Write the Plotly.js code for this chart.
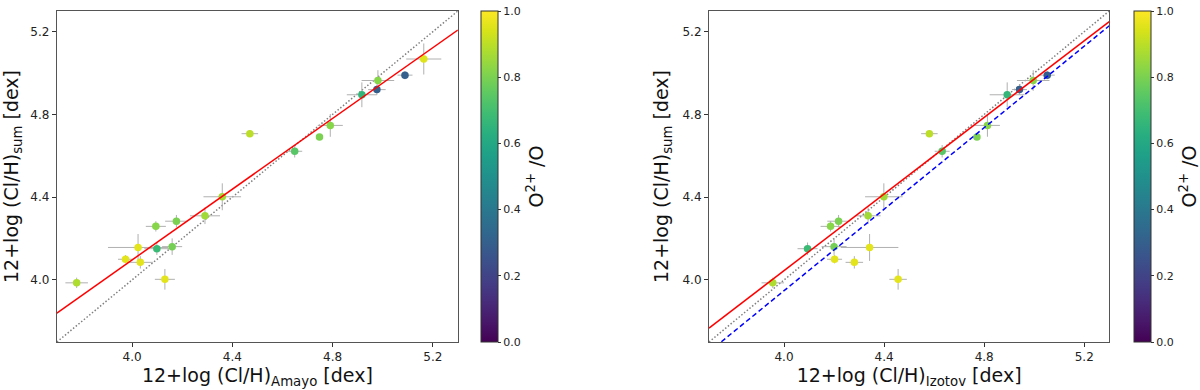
<!DOCTYPE html>
<html>
<head>
<meta charset="utf-8">
<script src="https://cdn.plot.ly/plotly-3.0.1.min.js"></script>
<style>
  body { margin: 0; background: #fff; }
  #chart { width: 1200px; height: 390px; }
</style>
</head>
<body>
<div id="chart"></div>
<script>
// 12+log(Cl/H) from the sum of ions (y axis of both panels)
var clSum = [3.986, 4.100, 4.157, 4.085, 4.259, 4.151, 4.003, 4.161, 4.284, 4.310,
             4.402, 4.707, 4.622, 4.691, 4.747, 4.895, 4.920, 4.964, 4.990, 5.068];
var clSumErr = [0.025, 0.02, 0.065, 0.03, 0.025, 0.03, 0.05, 0.04, 0.03, 0.04,
                0.065, 0.015, 0.03, 0.01, 0.055, 0.06, 0.025, 0.05, 0.02, 0.075];

// Amayo ICF
var clAmayo = [3.779, 3.974, 4.024, 4.033, 4.095, 4.099, 4.131, 4.160, 4.177, 4.291,
               4.360, 4.470, 4.649, 4.748, 4.791, 4.917, 4.977, 4.981, 5.089, 5.164];
var clAmayoErr = [0.045, 0.03, 0.12, 0.05, 0.04, 0.05, 0.04, 0.04, 0.045, 0.06,
                  0.075, 0.033, 0.03, 0.01, 0.05, 0.06, 0.035, 0.065, 0.03, 0.07];

// Izotov ICF (last object falls outside the plotted range)
var clIzotov = [3.955, 4.202, 4.342, 4.281, 4.186, 4.094, 4.456, 4.200, 4.218, 4.336,
                4.399, 4.581, 4.632, 4.771, 4.813, 4.892, 4.941, 4.996, 5.052, null];
var clIzotovErr = [0.045, 0.03, 0.115, 0.035, 0.04, 0.04, 0.035, 0.05, 0.045, 0.05,
                   0.075, 0.033, 0.03, 0.01, 0.05, 0.07, 0.03, 0.065, 0.03, 0];

// ionization degree O2+/O
var o2o = [0.88, 0.96, 0.96, 0.96, 0.82, 0.68, 0.96, 0.79, 0.80, 0.86,
           0.86, 0.90, 0.74, 0.80, 0.82, 0.66, 0.30, 0.82, 0.30, 0.95];

// linear fits: [slope, intercept]
var fitAmayo = [0.855, 0.6765];
var fitIzotov = [0.926, 0.341];
var fitIzotovBlue = [0.985, 0.008];

var xRange = [3.7, 5.3];
var yRange = [3.7, 5.3];

function lineFrom(fit, xa, ya, color, dash, width) {
  return {
    x: xRange,
    y: xRange.map(function (v) { return fit[0] * v + fit[1]; }),
    xaxis: xa, yaxis: ya,
    mode: 'lines', type: 'scatter', showlegend: false, hoverinfo: 'skip',
    line: { color: color, dash: dash, width: width }
  };
}

function points(xs, xerr, xa, ya, cax) {
  return {
    x: xs, y: clSum,
    xaxis: xa, yaxis: ya,
    mode: 'markers', type: 'scatter', showlegend: false,
    error_x: { type: 'data', array: xerr, color: '#b0b0b0', thickness: 1, width: 0 },
    error_y: { type: 'data', array: clSumErr, color: '#b0b0b0', thickness: 1, width: 0 },
    marker: { size: 7.5, color: o2o, coloraxis: cax }
  };
}

var data = [
  lineFrom([1, 0], 'x', 'y', '#808080', '1.5px,2px', 1.5),
  points(clAmayo, clAmayoErr, 'x', 'y', 'coloraxis'),
  lineFrom(fitAmayo, 'x', 'y', '#ff0000', 'solid', 1.5),

  lineFrom([1, 0], 'x2', 'y2', '#808080', '1.5px,2px', 1.5),
  points(clIzotov, clIzotovErr, 'x2', 'y2', 'coloraxis2'),
  lineFrom(fitIzotov, 'x2', 'y2', '#ff0000', 'solid', 1.5),
  lineFrom(fitIzotovBlue, 'x2', 'y2', '#0000ff', '5px,3px', 1.5)
];

var tickFont = { family: 'DejaVu Sans', size: 12, color: '#222' };
var titleFont = { family: 'DejaVu Sans', size: 19, color: '#111' };

function xAxis(domain, label, anchor) {
  return {
    domain: domain, anchor: anchor, range: xRange,
    tickvals: [4.0, 4.4, 4.8, 5.2], ticktext: ['4.0', '4.4', '4.8', '5.2'],
    ticks: 'outside', ticklen: 4, tickcolor: '#333',
    showgrid: false, zeroline: false,
    showline: true, mirror: true, linecolor: '#555', linewidth: 1,
    tickfont: tickFont,
    title: { text: label, font: titleFont, standoff: 5 }
  };
}

function yAxis(anchor) {
  return {
    domain: [0, 1], anchor: anchor, range: yRange,
    tickvals: [4.0, 4.4, 4.8, 5.2], ticktext: ['4.0', '4.4', '4.8', '5.2'],
    ticks: 'outside', ticklen: 4, tickcolor: '#333',
    showgrid: false, zeroline: false,
    showline: true, mirror: true, linecolor: '#555', linewidth: 1,
    tickfont: tickFont,
    title: { text: '12+log (Cl/H)<sub>sum</sub> [dex]', font: titleFont, standoff: 8 }
  };
}

function colorAxis(xpos) {
  return {
    cmin: 0, cmax: 1, colorscale: 'Viridis',
    colorbar: {
      x: xpos, xanchor: 'left', xpad: 0, ypad: 0,
      y: 0.5, yanchor: 'middle', len: 1, lenmode: 'fraction',
      thickness: 17, outlinewidth: 1, outlinecolor: '#333',
      tickvals: [0, 0.2, 0.4, 0.6, 0.8, 1.0],
      ticktext: ['0.0', '0.2', '0.4', '0.6', '0.8', '1.0'],
      ticks: 'outside', ticklen: 3, tickcolor: '#333',
      tickfont: { family: 'DejaVu Sans', size: 11, color: '#222' },
      title: { text: 'O<sup>2+</sup> /O', side: 'right',
               font: { family: 'DejaVu Sans', size: 19, color: '#111' } }
    }
  };
}

var layout = {
  width: 1200, height: 390,
  margin: { l: 0, r: 0, t: 11, b: 48 },
  paper_bgcolor: '#fff', plot_bgcolor: '#fff',
  xaxis: xAxis([0.0475, 0.3825], '12+log (Cl/H)<sub>Amayo</sub> [dex]', 'y'),
  yaxis: yAxis('x'),
  xaxis2: xAxis([0.5923, 0.9267], '12+log (Cl/H)<sub>Izotov</sub> [dex]', 'y2'),
  yaxis2: yAxis('x2'),
  coloraxis: colorAxis(0.4022),
  coloraxis2: colorAxis(0.9473)
};

Plotly.newPlot('chart', data, layout, { displayModeBar: false, staticPlot: true });
</script>
</body>
</html>
